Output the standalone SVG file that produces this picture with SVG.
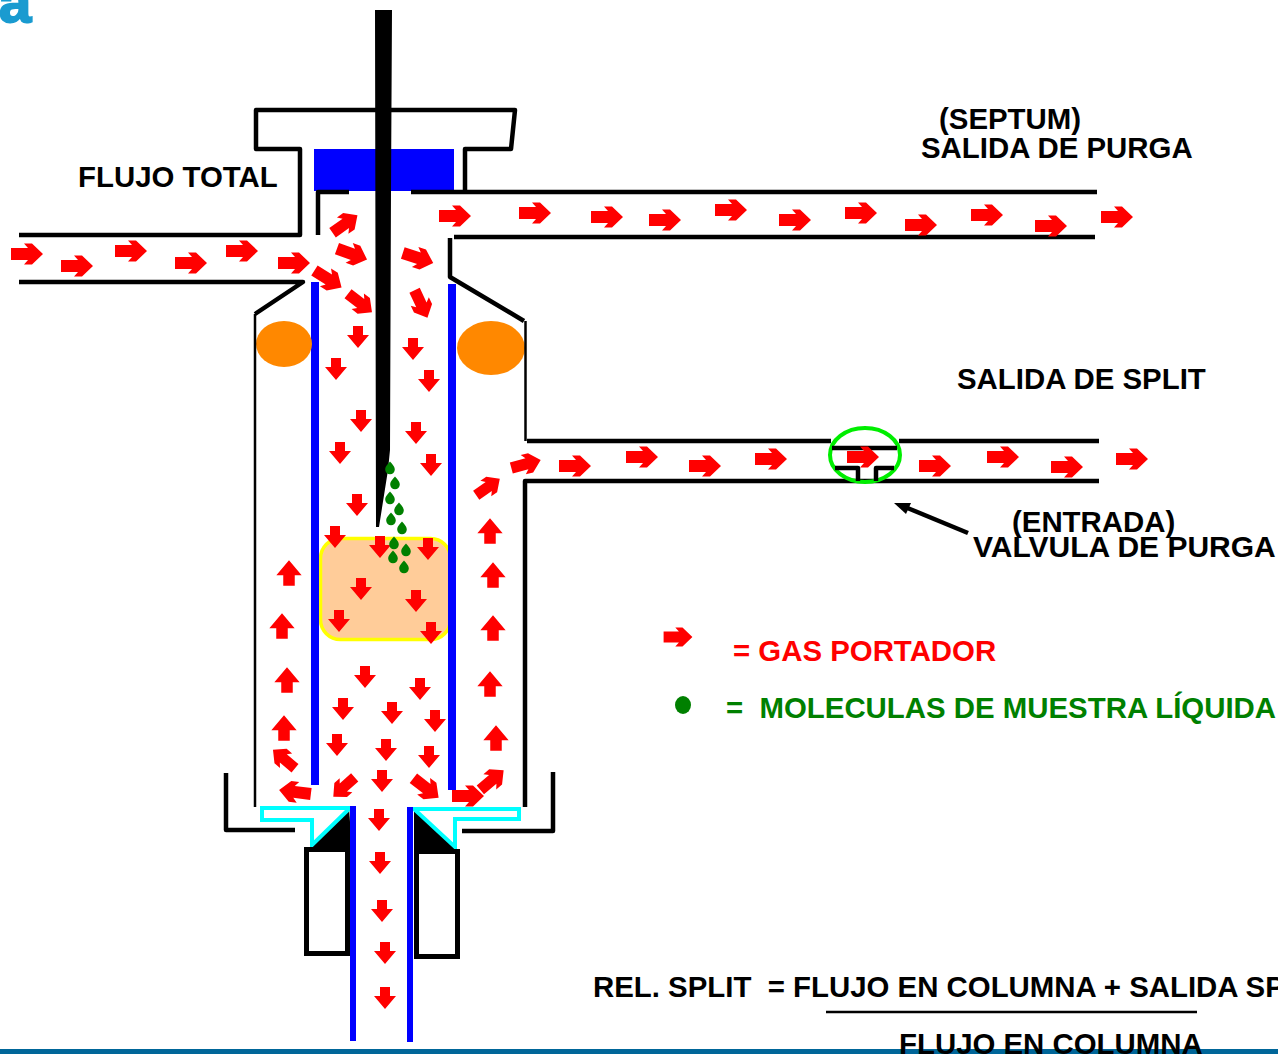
<svg xmlns="http://www.w3.org/2000/svg" width="1278" height="1054" viewBox="0 0 1278 1054">
<style>
text{font-family:"Liberation Sans",Arial,sans-serif;font-weight:700;font-size:29.400px;white-space:pre;fill:#000}
.k{fill:none;stroke:#000;stroke-width:4.500;stroke-linejoin:round}
.t{fill:none;stroke:#000;stroke-width:2.500}
.b{fill:none;stroke:#0000ff;stroke-width:8}
.c{fill:none;stroke:#0000ff;stroke-width:6}
.cy{fill:none;stroke:#00ffff;stroke-width:4}
.o{fill:#ff8800}
</style>
<defs>
<path id="r" fill="#ff0000" d="M-16,-6H1L-3,-10.500H5L16,0L5,10.500H-3L1,6H-16Z"/>
<path id="d" fill="#ff0000" d="M-5,-11H5V-2H11L0,11L-11,-2H-5Z"/>
<path id="g" fill="#008000" d="M0,-6.500C1.500,-4.500 4.800,-2 4.800,1.500A4.800,4.800 0 0 1 -4.800,1.500C-4.800,-2 -1.500,-4.500 0,-6.500Z"/>
</defs>
<rect width="1278" height="1054" fill="#fff"/>
<g id="logo"><text x="-1" y="22" style="font-size:58px;fill:#1a9bd0;stroke:#1a9bd0;stroke-width:2">a</text></g>
<g id="liner">
<rect x="320.500" y="538.500" width="130" height="101" rx="20" fill="#ffcc99" stroke="#ffff00" stroke-width="3.500"/>
<path class="b" d="M315,282V785M452,284V790"/>
</g>
<g id="orings">
<ellipse class="o" cx="284" cy="344" rx="28" ry="23"/>
<ellipse class="o" cx="491" cy="348" rx="34" ry="27"/>
</g>
<g id="body">
<path class="k" d="M19,235H300V149H256V110H515L511,149H465V192"/>
<rect x="314" y="149" width="140" height="42" fill="#0000ff"/>
<path class="k" d="M349,192H318V235"/>
<path class="k" d="M411,192H1097"/>
<path class="k" d="M454,237H1095"/>
<path class="k" d="M450,238V277L524,321"/>
<path class="t" d="M525.500,321V441"/>
<path class="k" d="M527,441H831M899,441H1099"/>
<path class="k" d="M1099,481H525V807"/>
<path class="k" d="M19,282H303L255,314"/>
<path class="t" d="M255,314V807"/>
<path class="k" d="M226,773V830H295M553,772V831H462"/>
</g>
<g id="needle"><polygon fill="#000" points="375,10 392,10 391,190 390,450 388,470 379,527 376,527"/></g>
<g id="ferrules">
<polygon fill="#000" points="349,808 352,849 310,849"/>
<polygon fill="#000" points="414,808 457,851 414,851"/>
<path class="cy" d="M350,808H262V820H312V845ZM414,809H519V819H455V847Z"/>
<rect x="306.500" y="849.500" width="41" height="104" fill="#fff" stroke="#000" stroke-width="5"/>
<rect x="416.500" y="851.500" width="41" height="105" fill="#fff" stroke="#000" stroke-width="5"/>
<path class="c" d="M353,806V1041M410,807V1042"/>
</g>
<g id="valve">
<ellipse cx="865" cy="455" rx="35" ry="27" fill="none" stroke="#00ee00" stroke-width="4"/>
<path class="k" d="M832,448H897M835,468H858V481M894,468H876V481"/>
</g>
<g id="connectors">
<path class="k" d="M968,533L905,507"/>
<polygon fill="#000" points="894,503 911,503 906,514"/>
</g>
<g id="gas">
<use href="#r" x="27" y="254"/><use href="#r" x="77" y="266"/><use href="#r" x="131" y="251"/><use href="#r" x="191" y="263"/><use href="#r" x="242" y="251"/><use href="#r" x="294" y="263"/>
<use href="#r" transform="translate(345,224) rotate(-35) scale(.95)"/>
<use href="#r" transform="translate(352,254) rotate(20)"/>
<use href="#r" transform="translate(328,279) rotate(32)"/>
<use href="#r" transform="translate(360,303) rotate(38) scale(.95)"/>
<use href="#r" transform="translate(418,258) rotate(18)"/>
<use href="#r" transform="translate(421,304) rotate(65) scale(.95)"/>
<use href="#r" x="455" y="216"/><use href="#r" x="535" y="213"/><use href="#r" x="607" y="217"/><use href="#r" x="665" y="220"/><use href="#r" x="731" y="210"/><use href="#r" x="795" y="220"/><use href="#r" x="861" y="213"/><use href="#r" x="921" y="225"/><use href="#r" x="987" y="215"/><use href="#r" x="1051" y="226"/><use href="#r" x="1117" y="217"/>
<use href="#d" x="358" y="337"/><use href="#d" x="413" y="349"/><use href="#d" x="336" y="369"/><use href="#d" x="429" y="381"/><use href="#d" x="361" y="421"/><use href="#d" x="416" y="433"/><use href="#d" x="340" y="453"/><use href="#d" x="431" y="465"/><use href="#d" x="357" y="505"/><use href="#d" x="335" y="537"/><use href="#d" x="380" y="547"/><use href="#d" x="428" y="549"/><use href="#d" x="361" y="589"/><use href="#d" x="416" y="601"/><use href="#d" x="339" y="621"/><use href="#d" x="431" y="633"/><use href="#d" x="365" y="677"/><use href="#d" x="420" y="689"/><use href="#d" x="343" y="709"/><use href="#d" x="392" y="713"/><use href="#d" x="435" y="721"/><use href="#d" x="337" y="745"/><use href="#d" x="386" y="750"/><use href="#d" x="429" y="757"/><use href="#d" x="382" y="781"/><use href="#d" x="379" y="820"/><use href="#d" x="380" y="863"/><use href="#d" x="382" y="911"/><use href="#d" x="385" y="953"/><use href="#d" x="385" y="998"/>
<use href="#r" transform="translate(295,792) rotate(187)"/>
<use href="#r" transform="translate(344,787) rotate(138) scale(.9)"/>
<use href="#r" transform="translate(284,759) rotate(-140) scale(.9)"/>
<use href="#r" transform="translate(426,788) rotate(38)"/>
<use href="#r" x="468" y="796"/>
<use href="#r" transform="translate(492,780) rotate(-40) scale(.95)"/>
<use href="#d" transform="translate(289,573) rotate(180) scale(1.15)"/><use href="#d" transform="translate(282,626) rotate(180) scale(1.15)"/><use href="#d" transform="translate(287,680) rotate(180) scale(1.15)"/><use href="#d" transform="translate(284,728) rotate(180) scale(1.15)"/>
<use href="#d" transform="translate(490,531) rotate(180) scale(1.15)"/><use href="#d" transform="translate(493,575) rotate(180) scale(1.15)"/><use href="#d" transform="translate(493,628) rotate(180) scale(1.15)"/><use href="#d" transform="translate(490,684) rotate(180) scale(1.15)"/><use href="#d" transform="translate(496,738) rotate(180) scale(1.15)"/>
<use href="#r" transform="translate(488,487) rotate(-35) scale(.9)"/>
<use href="#r" transform="translate(526,464) rotate(-15) scale(.95)"/>
<use href="#r" x="575" y="466"/><use href="#r" x="642" y="457"/><use href="#r" x="705" y="466"/><use href="#r" x="771" y="459"/><use href="#r" x="863" y="457"/><use href="#r" x="935" y="466"/><use href="#r" x="1003" y="457"/><use href="#r" x="1067" y="467"/><use href="#r" x="1132" y="459"/>
</g>
<g id="sample">
<use href="#g" x="390" y="468"/><use href="#g" x="395" y="483"/><use href="#g" x="390" y="498"/><use href="#g" x="399" y="509"/><use href="#g" x="391" y="519"/><use href="#g" x="402" y="528"/><use href="#g" x="394" y="543"/><use href="#g" x="406" y="550"/><use href="#g" x="393" y="557"/><use href="#g" x="404" y="567"/>
</g>
<g id="legend">
<use href="#r" transform="translate(678,637) scale(.9)"/>
<ellipse cx="683" cy="705" rx="8" ry="9" fill="#008000"/>
<text x="733" y="661" style="fill:#ff0000">= GAS PORTADOR</text>
<text x="726" y="718" style="fill:#008000">=  MOLECULAS DE MUESTRA LÍQUIDA</text>
</g>
<g id="labels">
<text x="78" y="187">FLUJO TOTAL</text>
<text x="939" y="129">(SEPTUM)</text>
<text x="921" y="158">SALIDA DE PURGA</text>
<text x="957" y="389">SALIDA DE SPLIT</text>
<text x="1012" y="532">(ENTRADA)</text>
<text x="973" y="557" style="font-size:30px">VALVULA DE PURGA</text>
<text x="593" y="997">REL. SPLIT  = FLUJO EN COLUMNA + SALIDA SPLIT</text>
<path class="t" d="M826,1012H1197"/>
</g>
<rect id="footer" y="1049" width="1278" height="5" fill="#006699"/>
<text x="899" y="1054">FLUJO EN COLUMNA</text>
</svg>
